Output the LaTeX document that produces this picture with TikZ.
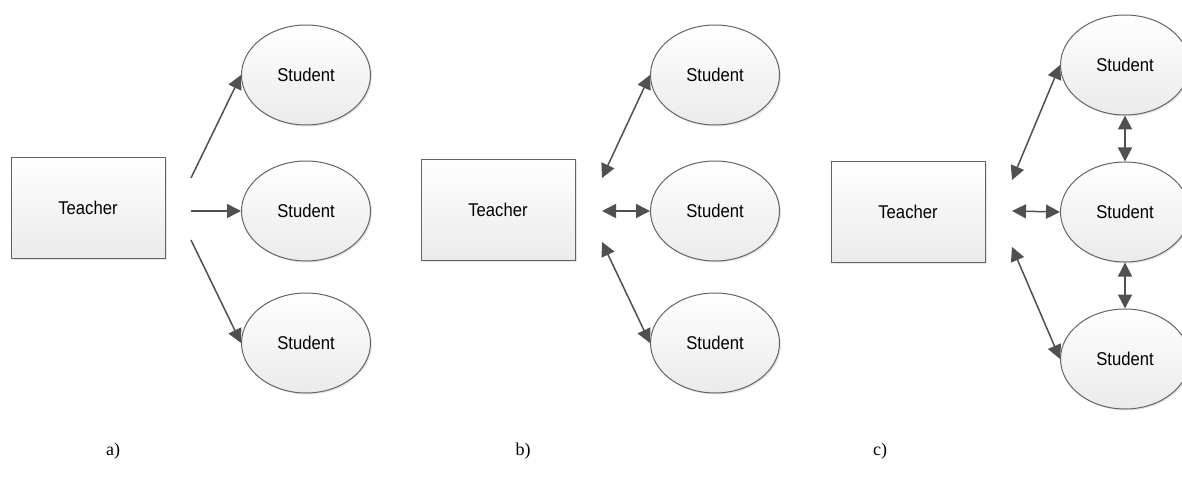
\documentclass[tikz,border=0pt]{standalone}
\usepackage{xcolor}
\usepackage{fontspec}
\usepackage{tikz}
\usetikzlibrary{arrows.meta,shapes.geometric,shadows}
\newfontfamily\diagfont[FakeStretch=0.9]{Liberation Sans}
\newfontfamily\capfont{Liberation Serif}
\definecolor{linkgray}{HTML}{505050}
\definecolor{edgegray}{HTML}{646464}
\begin{document}
\begin{tikzpicture}[x=1pt,y=-1pt,
  teacher/.style={draw=edgegray,line width=1pt,top color=white,bottom color=gray!16,
    minimum width=154pt,minimum height=101pt,inner sep=0pt,
    font=\diagfont\fontsize{18.5}{20}\selectfont,
    drop shadow={opacity=.2,shadow xshift=1.5pt,shadow yshift=-1.5pt}},
  student/.style={ellipse,draw=edgegray,line width=1pt,top color=white,bottom color=gray!16,
    minimum width=129pt,minimum height=100pt,inner sep=0pt,
    font=\diagfont\fontsize{18.5}{20}\selectfont,
    drop shadow={opacity=.2,shadow xshift=1.5pt,shadow yshift=-1.5pt}},
  caption/.style={font=\capfont\fontsize{18}{20}\selectfont},
  link/.style={-{Triangle[length=14pt,width=14pt]},line width=1.5pt,draw=linkgray,fill=linkgray},
  both/.style={{Triangle[length=14pt,width=14pt]}-{Triangle[length=14pt,width=14pt]},
    line width=1.5pt,draw=linkgray,fill=linkgray}]
\useasboundingbox (0,0) rectangle (1182,489);
\node[teacher] (ta) at (88,208) {Teacher};
\node[student] (sa1) at (306,75) {Student};
\node[student] (sa2) at (306,211) {Student};
\node[student] (sa3) at (306,343) {Student};
\coordinate (a1) at (191,178);
\coordinate (a2) at (191,211);
\coordinate (a3) at (191,240);
\draw[link] (a1)--(sa1.west);
\draw[link] (a2)--(sa2.west);
\draw[link] (a3)--(sa3.west);
\node[caption] (capa) at (113,451) {a)};
\node[teacher] (tb) at (498,210) {Teacher};
\node[student] (sb1) at (715,75) {Student};
\node[student] (sb2) at (715,211) {Student};
\node[student] (sb3) at (715,343) {Student};
\coordinate (b1) at (602,178);
\coordinate (b2) at (602,211);
\coordinate (b3) at (602,242);
\draw[both] (b1)--(sb1.west);
\draw[both] (b2)--(sb2.west);
\draw[both] (b3)--(sb3.west);
\node[caption] (capb) at (523,451) {b)};
\node[teacher] (tc) at (908,212) {Teacher};
\node[student] (sc1) at (1125,65) {Student};
\node[student] (sc2) at (1125,212) {Student};
\node[student] (sc3) at (1125,359) {Student};
\coordinate (c1) at (1012,180);
\coordinate (c2) at (1012,211);
\coordinate (c3) at (1012,247);
\draw[both] (c1)--(sc1.west);
\draw[both] (c2)--(sc2.west);
\draw[both] (c3)--(sc3.west);
\draw[both] (sc1.south)--(sc2.north);
\draw[both] (sc2.south)--(sc3.north);
\node[caption] (capc) at (880,451) {c)};
\end{tikzpicture}
\end{document}
